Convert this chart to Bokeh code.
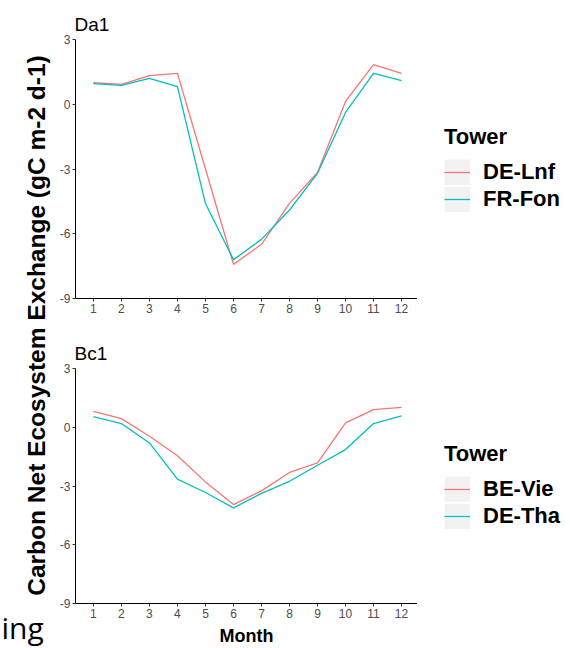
from math import pi
from bokeh.plotting import figure
from bokeh.models import Range1d, Legend, LegendItem, Label, FixedTicker
from bokeh.layouts import row, column
from bokeh.embed import file_html
from bokeh.resources import INLINE

months = list(range(1, 13))
y_ticks = [-9, -6, -3, 0, 3]

da1_de_lnf = [1.0, 0.92, 1.33, 1.43, -3.0, -7.42, -6.49, -4.59, -3.16, 0.13, 1.84, 1.43]
da1_fr_fon = [0.96, 0.87, 1.2, 0.82, -4.6, -7.2, -6.26, -4.9, -3.2, -0.38, 1.43, 1.1]
bc1_be_vie = [0.81, 0.44, -0.46, -1.46, -2.79, -3.95, -3.25, -2.31, -1.82, 0.22, 0.9, 1.02]
bc1_de_tha = [0.54, 0.19, -0.8, -2.65, -3.33, -4.12, -3.38, -2.76, -1.94, -1.14, 0.19, 0.58]

RED = "#F8766D"
CYAN = "#00BFC4"
FONT = "Liberation Sans"
SIDE_W = 56
LEG_W = 153
PANEL_W = 570 - SIDE_W - LEG_W


def blank(w, h):
    f = figure(width=w, height=h, x_range=Range1d(0, w), y_range=Range1d(0, h),
               output_backend="svg", toolbar_location=None,
               x_axis_location=None, y_axis_location=None,
               min_border=0, min_border_left=0, min_border_right=0,
               min_border_top=0, min_border_bottom=0)
    f.outline_line_color = None
    for g in f.grid:
        g.visible = False
    return f


def panel(h, top_b, bot_b, title, s1, s2, xlabel):
    p = figure(width=PANEL_W, height=h, x_range=Range1d(0.36, 12.57), y_range=Range1d(-9, 3),
               output_backend="svg", toolbar_location=None,
               min_border_left=0, min_border_right=0,
               min_border_top=top_b, min_border_bottom=bot_b)
    p.xgrid.visible = False
    p.ygrid.visible = False
    p.outline_line_color = None
    p.xaxis.ticker = FixedTicker(ticks=months)
    p.yaxis.ticker = FixedTicker(ticks=y_ticks)
    p.yaxis.major_label_overrides = {t: str(t) for t in y_ticks}
    for ax in (p.xaxis, p.yaxis):
        ax.axis_line_color = "black"
        ax.axis_line_width = 1
        ax.major_tick_line_color = "#333333"
        ax.major_tick_in = 0
        ax.major_tick_out = 3
        ax.minor_tick_line_color = None
        ax.major_label_text_font = FONT
        ax.major_label_text_font_size = "12px"
        ax.major_label_text_color = "#4D4D4D"
        ax.major_label_standoff = 2
    if xlabel:
        p.xaxis.axis_label = xlabel
        p.xaxis.axis_label_text_font = FONT
        p.xaxis.axis_label_text_font_size = "18px"
        p.xaxis.axis_label_text_font_style = "bold"
        p.xaxis.axis_label_text_color = "black"
        p.xaxis.axis_label_standoff = 5

    p.title.text = title
    p.title.text_font = FONT
    p.title.text_font_size = "19px"
    p.title.text_font_style = "normal"
    p.title.text_color = "black"
    p.title.align = "left"
    p.title.offset = -1
    p.title.standoff = 10

    p.line(months, s1, color=RED, line_width=1.3)
    p.line(months, s2, color=CYAN, line_width=1.3)
    return p


def legend_fig(h, n1, n2, leg_y):
    f = blank(LEG_W, h)
    bg = f.line([-10, -9], [0, 0], color="#F2F2F2", line_width=26, line_cap="butt")
    k1 = f.line([-10, -9], [0, 0], color=RED, line_width=1.3)
    k2 = f.line([-10, -9], [0, 0], color=CYAN, line_width=1.3)
    legend = Legend(items=[LegendItem(label=n1, renderers=[bg, k1]),
                           LegendItem(label=n2, renderers=[bg, k2])],
                    location=(27, leg_y), title="Tower",
                    title_text_font=FONT, title_text_font_size="22px",
                    title_text_font_style="bold", title_text_color="black",
                    title_standoff=9,
                    label_text_font=FONT, label_text_font_size="22px",
                    label_text_font_style="bold", label_text_color="black",
                    label_standoff=13, glyph_width=26, glyph_height=26,
                    label_height=26, spacing=1, padding=0, margin=0,
                    border_line_color=None, background_fill_alpha=0)
    f.add_layout(legend)
    return f


top = panel(330, 39, 32, "Da1", da1_de_lnf, da1_fr_fon, None)
bottom = panel(318, 38, 45, "Bc1", bc1_be_vie, bc1_de_tha, "Month")
leg_top = legend_fig(330, "DE-Lnf", "FR-Fon", 118)
leg_bot = legend_fig(318, "BE-Vie", "DE-Tha", 119)

side = blank(SIDE_W, 648)
side.add_layout(Label(x=36, y=323, angle=pi / 2,
                      text="Carbon Net Ecosystem Exchange (gC m-2 d-1)",
                      text_font=FONT, text_font_size="24.5px", text_font_style="bold",
                      text_color="black", text_align="center", text_baseline="middle"))
side.add_layout(Label(x=1, y=1, text="ing", text_font="Open Sans",
                      text_font_size="30px", text_color="black",
                      text_baseline="bottom", text_align="left"))

layout = row(side, column(top, bottom), column(leg_top, leg_bot))
open("out.html", "w").write(file_html(layout, INLINE))
